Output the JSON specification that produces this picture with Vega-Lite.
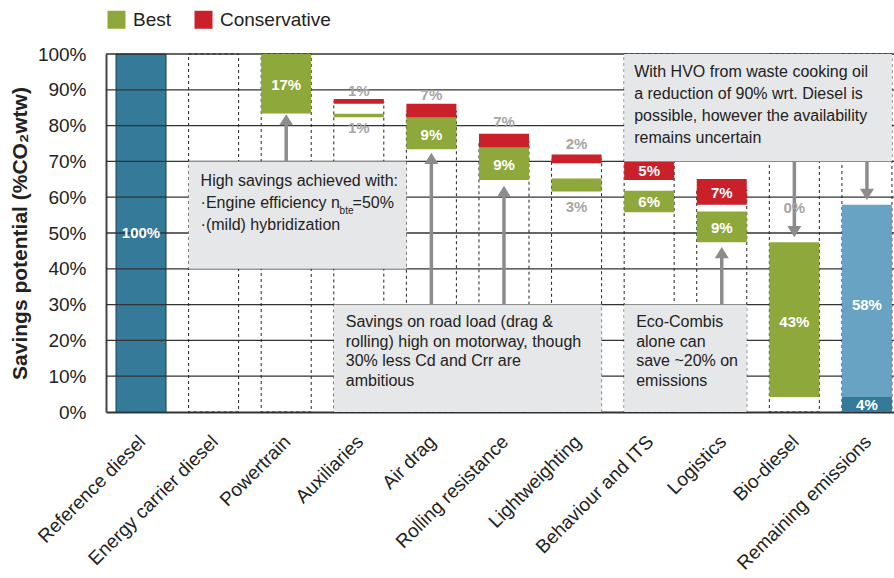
{
  "$schema": "https://vega.github.io/schema/vega-lite/v6.json",
  "autosize": "none",
  "width": 788,
  "height": 358,
  "padding": {"left": 106, "top": 54, "right": 0, "bottom": 166},
  "background": "white",
  "config": {"font": "Liberation Sans", "view": {"stroke": null}},
  "resolve": {"axis": {"x": "independent", "y": "independent"}},
  "datasets": {
    "ref": [{"cat": "Reference diesel", "y0": 0, "y1": 100}],
    "grid": [{"v": 10}, {"v": 20}, {"v": 30}, {"v": 40}, {"v": 50}, {"v": 60}, {"v": 70}, {"v": 80}, {"v": 90}, {"v": 100}],
    "outline": [
      {"cat": "Energy carrier diesel", "top": 100},
      {"cat": "Powertrain", "top": 100},
      {"cat": "Auxiliaries", "top": 86.7},
      {"cat": "Air drag", "top": 84},
      {"cat": "Rolling resistance", "top": 75.5},
      {"cat": "Lightweighting", "top": 70.6},
      {"cat": "Behaviour and ITS", "top": 100},
      {"cat": "Logistics", "top": 62},
      {"cat": "Bio-diesel", "top": 100},
      {"cat": "Remaining emissions", "top": 100}
    ],
    "bars": [
      {"cat": "Powertrain", "series": "Best", "y0": 83.4, "y1": 100},
      {"cat": "Auxiliaries", "series": "Conservative", "y0": 86.1, "y1": 87.4},
      {"cat": "Auxiliaries", "series": "Best", "y0": 82.3, "y1": 83.3},
      {"cat": "Air drag", "series": "Conservative", "y0": 82.2, "y1": 86.1},
      {"cat": "Air drag", "series": "Best", "y0": 73.4, "y1": 82.2},
      {"cat": "Rolling resistance", "series": "Conservative", "y0": 73.8, "y1": 77.7},
      {"cat": "Rolling resistance", "series": "Best", "y0": 64.8, "y1": 73.8},
      {"cat": "Lightweighting", "series": "Conservative", "y0": 69.5, "y1": 71.9},
      {"cat": "Lightweighting", "series": "Best", "y0": 61.6, "y1": 65.2},
      {"cat": "Behaviour and ITS", "series": "Conservative", "y0": 64.8, "y1": 69.8},
      {"cat": "Behaviour and ITS", "series": "Best", "y0": 55.8, "y1": 61.8},
      {"cat": "Logistics", "series": "Conservative", "y0": 57.9, "y1": 65.1},
      {"cat": "Logistics", "series": "Best", "y0": 47.4, "y1": 56.0},
      {"cat": "Bio-diesel", "series": "Best", "y0": 4.2, "y1": 47.4},
      {"cat": "Remaining emissions", "series": "Remaining", "y0": 4.2, "y1": 57.9},
      {"cat": "Remaining emissions", "series": "Base", "y0": 0, "y1": 4.2}
    ],
    "boxA": [{"xs": "Energy carrier diesel", "xe": "Air drag", "y0": 40, "y1": 70, "ty": 66.7, "label": "High savings achieved with:\n·Engine efficiency n\n·(mild) hybridization"}],
    "boxes": [
      {"xs": "Auxiliaries", "xe": "Lightweighting", "y0": 0, "y1": 30, "ty": 27.3, "label": "Savings on road load (drag &\nrolling) high on motorway, though\n30% less Cd and Crr are\nambitious"},
      {"xs": "Behaviour and ITS", "xe": "Logistics", "y0": 0, "y1": 30, "ty": 27.3, "label": "Eco-Combis\nalone can\nsave ~20% on\nemissions"},
      {"xs": "Behaviour and ITS", "xe": "Remaining emissions", "y0": 70, "y1": 100, "ty": 97.2, "label": "With HVO from waste cooking oil\na reduction of 90% wrt. Diesel is\npossible, however the availability\nremains uncertain"}
    ],
    "sub": [{"xs": "Energy carrier diesel", "y": 57.5, "t": "bte"}],
    "eq": [{"xs": "Energy carrier diesel", "y": 60.5, "t": "=50%"}],
    "arrows": [
      {"cat": "Powertrain", "from": 70, "base": 80.4, "tip": 83.2, "dir": "up"},
      {"cat": "Air drag", "from": 30, "base": 69.6, "tip": 72.4, "dir": "up"},
      {"cat": "Rolling resistance", "from": 30, "base": 60.4, "tip": 63.2, "dir": "up"},
      {"cat": "Logistics", "from": 30, "base": 43.3, "tip": 46.1, "dir": "up"},
      {"cat": "Bio-diesel", "from": 70, "base": 51.6, "tip": 48.8, "dir": "down"},
      {"cat": "Remaining emissions", "from": 70, "base": 62.0, "tip": 59.2, "dir": "down"}
    ],
    "labels": [
      {"cat": "Reference diesel", "y": 50, "t": "100%", "tone": "white"},
      {"cat": "Powertrain", "y": 91.3, "t": "17%", "tone": "white"},
      {"cat": "Auxiliaries", "y": 89.7, "t": "1%", "tone": "gray"},
      {"cat": "Auxiliaries", "y": 79.2, "t": "1%", "tone": "gray"},
      {"cat": "Air drag", "y": 88.6, "t": "7%", "tone": "gray"},
      {"cat": "Air drag", "y": 77.5, "t": "9%", "tone": "white"},
      {"cat": "Rolling resistance", "y": 81.1, "t": "7%", "tone": "gray"},
      {"cat": "Rolling resistance", "y": 69.0, "t": "9%", "tone": "white"},
      {"cat": "Lightweighting", "y": 74.8, "t": "2%", "tone": "gray"},
      {"cat": "Lightweighting", "y": 57.2, "t": "3%", "tone": "gray"},
      {"cat": "Behaviour and ITS", "y": 67.2, "t": "5%", "tone": "white"},
      {"cat": "Behaviour and ITS", "y": 58.6, "t": "6%", "tone": "white"},
      {"cat": "Logistics", "y": 61.3, "t": "7%", "tone": "white"},
      {"cat": "Logistics", "y": 51.5, "t": "9%", "tone": "white"},
      {"cat": "Bio-diesel", "y": 57.1, "t": "0%", "tone": "gray"},
      {"cat": "Bio-diesel", "y": 25.2, "t": "43%", "tone": "white"},
      {"cat": "Remaining emissions", "y": 30.0, "t": "58%", "tone": "white"},
      {"cat": "Remaining emissions", "y": 1.9, "t": "4%", "tone": "white"}
    ]
  },
  "layer": [
    {
      "data": {"name": "ref"},
      "mark": {"type": "bar", "color": "#357a99", "stroke": "#1e3f52", "strokeWidth": 1},
      "encoding": {
        "x": {
          "field": "cat", "type": "nominal", "sort": null,
          "scale": {
            "domain": ["Reference diesel", "Energy carrier diesel", "Powertrain", "Auxiliaries", "Air drag", "Rolling resistance", "Lightweighting", "Behaviour and ITS", "Logistics", "Bio-diesel", "Remaining emissions"],
            "paddingInner": 0.311, "paddingOuter": 0.083, "align": 0.83
          },
          "axis": {
            "title": null, "labelAngle": -45, "labelFontSize": 19, "labelColor": "#222222", "labelLimit": 0,
            "ticks": false, "domainColor": "#333333", "domainWidth": 2, "labelPadding": 20, "labelOffset": -5
          }
        },
        "y": {
          "field": "y0", "type": "quantitative",
          "scale": {"domain": [0, 100], "nice": false},
          "axis": {
            "title": "Savings potential (%CO₂wtw)", "titleFontSize": 21, "titleFontWeight": "bold", "titleColor": "#222222", "titlePadding": 7,
            "values": [0, 10, 20, 30, 40, 50, 60, 70, 80, 90, 100], "labelExpr": "datum.value + '%'", "labelOverlap": false,
            "labelFontSize": 19, "labelColor": "#222222", "ticks": false, "labelPadding": 20,
            "grid": false, "domainColor": "#444444", "domainWidth": 2
          }
        },
        "y2": {"field": "y1"}
      }
    },
    {
      "data": {"name": "grid"},
      "mark": {"type": "rule", "color": "#333333", "strokeWidth": 1.3},
      "encoding": {"y": {"field": "v", "type": "quantitative", "axis": null}}
    },
    {
      "data": {"name": "outline"},
      "mark": {"type": "bar", "filled": false, "stroke": "#222222", "strokeWidth": 1, "strokeDash": [3, 3]},
      "encoding": {
        "x": {"field": "cat", "type": "nominal", "axis": null},
        "y": {"field": "top", "type": "quantitative", "axis": null}
      }
    },
    {
      "data": {"name": "bars"},
      "mark": {"type": "bar"},
      "encoding": {
        "x": {"field": "cat", "type": "nominal", "axis": null},
        "y": {"field": "y0", "type": "quantitative", "axis": null},
        "y2": {"field": "y1"},
        "color": {
          "field": "series", "type": "nominal",
          "scale": {"domain": ["Best", "Conservative", "Remaining", "Base"], "range": ["#8fa83c", "#c9202a", "#68a3c3", "#357a99"]},
          "legend": {
            "values": ["Best", "Conservative"], "title": null, "orient": "none", "legendX": 1, "legendY": -44,
            "direction": "horizontal", "symbolType": "square", "symbolSize": 324, "symbolStrokeWidth": 0, "symbolOpacity": 1,
            "labelFontSize": 19, "labelColor": "#222222", "labelOffset": 7, "columnPadding": 22
          }
        }
      }
    },
    {
      "data": {"name": "boxA"},
      "mark": {"type": "rect", "color": "#e6e7e8"},
      "encoding": {
        "x": {"field": "xs", "type": "nominal", "bandPosition": 0, "axis": null},
        "x2": {"field": "xe", "bandPosition": 0},
        "y": {"field": "y0", "type": "quantitative", "axis": null},
        "y2": {"field": "y1"}
      }
    },
    {
      "data": {"name": "boxes"},
      "mark": {"type": "rect", "color": "#e6e7e8"},
      "encoding": {
        "x": {"field": "xs", "type": "nominal", "bandPosition": 0, "axis": null},
        "x2": {"field": "xe", "bandPosition": 1},
        "y": {"field": "y0", "type": "quantitative", "axis": null},
        "y2": {"field": "y1"}
      }
    },
    {
      "data": {"name": "boxA"},
      "mark": {"type": "text", "align": "left", "baseline": "top", "dx": 12, "fontSize": 16, "color": "#222222", "lineBreak": "\n", "lineHeight": 22},
      "encoding": {
        "x": {"field": "xs", "type": "nominal", "bandPosition": 0, "axis": null},
        "y": {"field": "ty", "type": "quantitative", "axis": null},
        "text": {"field": "label", "type": "nominal"}
      }
    },
    {
      "data": {"name": "sub"},
      "mark": {"type": "text", "align": "left", "baseline": "top", "dx": 151, "fontSize": 10, "color": "#222222"},
      "encoding": {
        "x": {"field": "xs", "type": "nominal", "bandPosition": 0, "axis": null},
        "y": {"field": "y", "type": "quantitative", "axis": null},
        "text": {"field": "t", "type": "nominal"}
      }
    },
    {
      "data": {"name": "eq"},
      "mark": {"type": "text", "align": "left", "baseline": "top", "dx": 164, "fontSize": 16, "color": "#222222"},
      "encoding": {
        "x": {"field": "xs", "type": "nominal", "bandPosition": 0, "axis": null},
        "y": {"field": "y", "type": "quantitative", "axis": null},
        "text": {"field": "t", "type": "nominal"}
      }
    },
    {
      "data": {"name": "boxes"},
      "transform": [{"filter": "datum.y0 < 50"}],
      "mark": {"type": "text", "align": "left", "baseline": "top", "dx": 12, "fontSize": 16, "color": "#222222", "lineBreak": "\n", "lineHeight": 19.6},
      "encoding": {
        "x": {"field": "xs", "type": "nominal", "bandPosition": 0, "axis": null},
        "y": {"field": "ty", "type": "quantitative", "axis": null},
        "text": {"field": "label", "type": "nominal"}
      }
    },
    {
      "data": {"name": "boxes"},
      "transform": [{"filter": "datum.y0 >= 50"}],
      "mark": {"type": "text", "align": "left", "baseline": "top", "dx": 10, "fontSize": 16, "color": "#222222", "lineBreak": "\n", "lineHeight": 22},
      "encoding": {
        "x": {"field": "xs", "type": "nominal", "bandPosition": 0, "axis": null},
        "y": {"field": "ty", "type": "quantitative", "axis": null},
        "text": {"field": "label", "type": "nominal"}
      }
    },
    {
      "data": {"name": "arrows"},
      "mark": {"type": "rule", "color": "#8c8c8c", "strokeWidth": 3.5},
      "encoding": {
        "x": {"field": "cat", "type": "nominal", "axis": null},
        "y": {"field": "from", "type": "quantitative", "axis": null},
        "y2": {"field": "base"}
      }
    },
    {
      "data": {"name": "arrows"},
      "mark": {"type": "point", "filled": true, "opacity": 1, "color": "#8c8c8c", "size": 196},
      "encoding": {
        "x": {"field": "cat", "type": "nominal", "axis": null},
        "y": {"field": "tip", "type": "quantitative", "axis": null},
        "shape": {"field": "dir", "type": "nominal", "scale": {"domain": ["up", "down"], "range": ["M0,0L-1,1.6L1,1.6Z", "M0,0L-1,-1.6L1,-1.6Z"]}, "legend": null}
      }
    },
    {
      "data": {"name": "labels"},
      "transform": [{"filter": "datum.tone === 'white'"}],
      "mark": {"type": "text", "fontSize": 15, "fontWeight": "bold", "color": "#ffffff", "baseline": "middle"},
      "encoding": {
        "x": {"field": "cat", "type": "nominal", "axis": null},
        "y": {"field": "y", "type": "quantitative", "axis": null},
        "text": {"field": "t", "type": "nominal"}
      }
    },
    {
      "data": {"name": "labels"},
      "transform": [{"filter": "datum.tone === 'gray'"}],
      "mark": {"type": "text", "fontSize": 15, "fontWeight": "bold", "color": "#a6a6a6", "baseline": "middle"},
      "encoding": {
        "x": {"field": "cat", "type": "nominal", "axis": null},
        "y": {"field": "y", "type": "quantitative", "axis": null},
        "text": {"field": "t", "type": "nominal"}
      }
    }
  ]
}
